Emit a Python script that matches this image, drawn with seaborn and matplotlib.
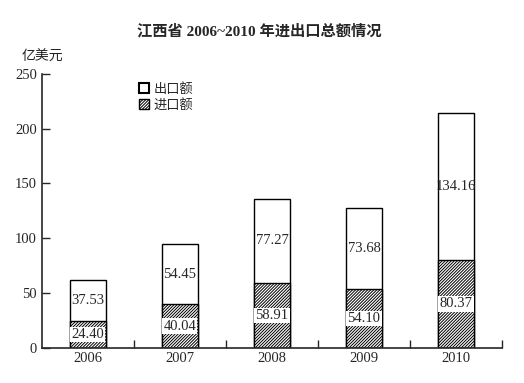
import matplotlib
matplotlib.use("Agg")
import matplotlib.pyplot as plt
from matplotlib.patches import Patch
import seaborn as sns
import pandas as pd

# data
years = ["2006", "2007", "2008", "2009", "2010"]
imports = [24.40, 40.04, 58.91, 54.10, 80.37]
exports = [37.53, 54.45, 77.27, 73.68, 134.16]
y_ticks = [0, 50, 100, 150, 200, 250]

df = pd.DataFrame({"year": years, "imp": imports, "exp": exports})
df["total"] = df["imp"] + df["exp"]

# fine diagonal hatch, about 3px apart
HATCH = "/" * 11

sns.set_style("ticks")
plt.rcParams["font.family"] = ["Liberation Serif", "Noto Sans CJK SC"]
plt.rcParams["hatch.linewidth"] = 0.7
plt.rcParams["hatch.color"] = "black"

fig = plt.figure(figsize=(5.24, 3.83), dpi=100)
ax = fig.add_axes([0.080, 0.0914, 0.878, 0.716])

# white totals first, hatched imports on top
sns.barplot(data=df, x="year", y="total", color="white", edgecolor="black",
            linewidth=1.0, width=0.4, ax=ax, saturation=1)
sns.barplot(data=df, x="year", y="imp", color="white", edgecolor="black",
            linewidth=1.0, width=0.4, ax=ax, saturation=1, hatch=HATCH)

for i, row in df.iterrows():
    ax.text(i, row["imp"] / 2, f"{row['imp']:.2f}", ha="center", va="center",
            fontsize=10.5, bbox=dict(facecolor="white", edgecolor="none", pad=0.8))
    ax.text(i, row["imp"] + row["exp"] / 2, f"{row['exp']:.2f}", ha="center",
            va="center", fontsize=10.5)

ax.set_xlim(-0.5, 4.5)
ax.set_ylim(0, 250)
ax.set_yticks(y_ticks)
ax.set_xticks(range(len(years)))
ax.set_xticklabels(years)
ax.tick_params(axis="x", length=0, labelsize=10.5, pad=3)
ax.set_xticks([k + 0.5 for k in range(len(years))], minor=True)
ax.tick_params(axis="x", which="minor", direction="in", length=6, width=1)
ax.tick_params(axis="y", direction="in", length=6, width=1, labelsize=10.5)
ax.set_xlabel("")
ax.set_ylabel("")
for s in ["top", "right"]:
    ax.spines[s].set_visible(False)
for s in ["left", "bottom"]:
    ax.spines[s].set_linewidth(1.2)

ax.text(-0.045, 1.035, "亿美元", transform=ax.transAxes, fontsize=10,
        family=["Noto Sans CJK SC"], ha="left", va="bottom", color="#222222")

handles = [Patch(facecolor="white", edgecolor="black", linewidth=1.5),
           Patch(facecolor="white", edgecolor="black", hatch=HATCH)]
ax.legend(handles, ["出口额", "进口额"], loc="upper left",
          bbox_to_anchor=(0.185, 1.01), frameon=False, handlelength=0.8,
          handleheight=0.8, handletextpad=0.3, labelspacing=0.2,
          prop={"family": "Noto Sans CJK SC", "size": 9.5})

fig.text(0.495, 0.92, "江西省 2006~2010 年进出口总额情况", ha="center",
         va="center", fontsize=11, fontweight="bold",
         family=["Liberation Serif", "Noto Sans CJK SC"])

fig.savefig("out.png", dpi=100, facecolor="white")
